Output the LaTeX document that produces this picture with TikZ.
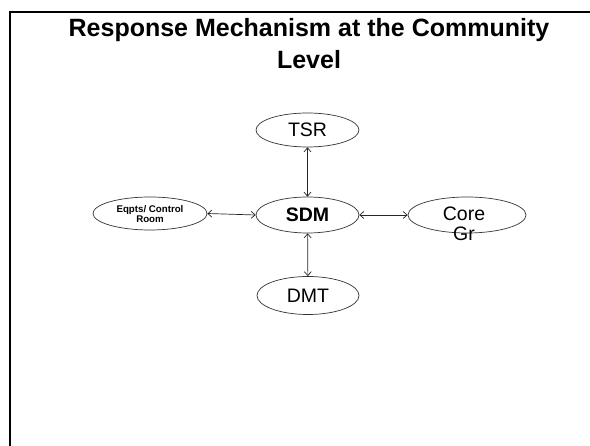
\documentclass[tikz,border=0pt]{standalone}
\usepackage{fontspec}
\setmainfont{Liberation Sans}
\usetikzlibrary{shapes.geometric,arrows.meta}
\tikzset{
  oval/.style={draw=black!80, line width=0.7pt, ellipse, inner sep=0pt},
  link/.style={draw=black!85, line width=0.7pt, {Straight Barb[length=4pt,width=7pt]}-{Straight Barb[length=4pt,width=7pt]}},
  lbl/.style={font=\fontsize{19.5}{20.5}\selectfont, inner sep=0pt, align=center},
  ttl/.style={font=\bfseries\fontsize{25}{32}\selectfont, anchor=base, inner sep=0pt}
}
\begin{document}
\begin{tikzpicture}[x=1pt,y=-1pt]
\useasboundingbox (0,0) rectangle (590,446);
\coordinate (fr1) at (590,12);
\coordinate (fr2) at (10,12);
\coordinate (fr3) at (10,446);
\draw[line width=2pt] (fr1) -- (fr2) -- (fr3);
\node[ttl] (title1) at (309,37) {Response Mechanism at the Community};
\node[ttl] (title2) at (309,69) {Level};
\node[oval, minimum width=103pt, minimum height=34pt] (tsr) at (307.5,130) {};
\node[lbl] (tsrt) at (307.5,130) {TSR};
\node[oval, minimum width=103pt, minimum height=36pt] (sdm) at (307.5,215) {};
\node[lbl, font=\bfseries\fontsize{19.5}{21}\selectfont] (sdmt) at (307.5,215) {SDM};
\node[oval, minimum width=114pt, minimum height=33pt] (eq) at (150,213.5) {};
\node[lbl, font=\bfseries\fontsize{9.7}{10.5}\selectfont] (eqt) at (150,214) {Eqpts/ Control\\Room};
\node[oval, minimum width=118pt, minimum height=36pt] (core) at (467,215) {};
\node[lbl] (coret) at (464,224) {Core\\Gr};
\node[oval, minimum width=102pt, minimum height=38pt] (dmt) at (308,295.5) {};
\node[lbl] (dmtt) at (308,295.5) {DMT};
\draw[link] (tsr) -- (sdm);
\draw[link] (sdm) -- (dmt);
\draw[link] (eq.east) -- (sdm.west);
\draw[link] (sdm.east) -- (core.west);
\end{tikzpicture}
\end{document}
